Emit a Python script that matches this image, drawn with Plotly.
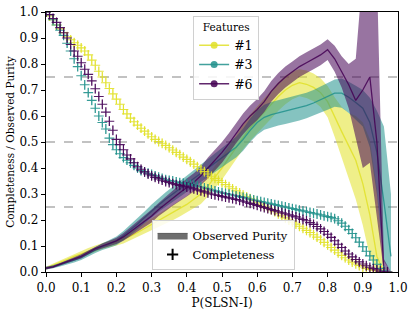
import numpy as np
import plotly.graph_objects as go

# ---------------- data ----------------
P_GRID = [round(0.02 * i, 2) for i in range(50)]          # purity sample points
C_GRID = [round(0.01 * i, 2) for i in range(98)]          # completeness sample points

FEATURES = ["#1", "#3", "#6"]
COLORS = {"#1": (225, 225, 40), "#3": (33, 145, 140), "#6": (68, 1, 84)}

# Observed purity: mean, upper, lower  (x = P_GRID)
pur_mean_1 = [0.015,0.025,0.035,0.048,0.06,0.07,0.08,0.09,0.10,0.108,0.115,0.125,0.138,0.152,0.167,0.182,0.197,0.212,0.227,0.243,
              0.26,0.28,0.30,0.33,0.365,0.40,0.44,0.48,0.52,0.555,0.585,0.615,0.645,0.675,0.70,0.718,0.728,0.722,0.71,0.69,
              0.655,0.595,0.54,0.485,0.43,0.34,0.22,0.06,0.0,0.0]
pur_up_1 = [0.02,0.032,0.044,0.058,0.071,0.082,0.092,0.102,0.112,0.12,0.128,0.14,0.155,0.171,0.188,0.205,0.222,0.238,0.255,0.273,
            0.292,0.315,0.338,0.37,0.407,0.445,0.487,0.528,0.568,0.605,0.637,0.668,0.70,0.73,0.755,0.772,0.78,0.775,0.763,0.745,
            0.715,0.672,0.635,0.612,0.60,0.575,0.51,0.32,0.0,0.0]
pur_lo_1 = [0.01,0.018,0.026,0.038,0.049,0.058,0.068,0.078,0.088,0.096,0.102,0.11,0.121,0.133,0.146,0.159,0.172,0.186,0.199,0.213,
            0.228,0.245,0.262,0.29,0.323,0.355,0.393,0.432,0.472,0.505,0.533,0.562,0.59,0.62,0.645,0.664,0.676,0.669,0.657,0.635,
            0.595,0.52,0.445,0.36,0.28,0.18,0.06,0.0,0.0,0.0]

pur_mean_3 = [0.015,0.02,0.028,0.036,0.046,0.056,0.07,0.085,0.098,0.108,0.12,0.14,0.162,0.185,0.21,0.235,0.258,0.28,0.30,0.32,
              0.34,0.36,0.38,0.40,0.42,0.44,0.46,0.48,0.51,0.545,0.575,0.595,0.605,0.612,0.618,0.624,0.632,0.64,0.65,0.663,
              0.676,0.688,0.688,0.672,0.652,0.63,0.575,0.46,0.27,0.06]
pur_up_3 = [0.02,0.026,0.035,0.044,0.055,0.066,0.081,0.097,0.111,0.123,0.137,0.158,0.182,0.207,0.233,0.26,0.284,0.307,0.328,0.35,
            0.372,0.393,0.414,0.435,0.456,0.477,0.498,0.52,0.552,0.59,0.622,0.643,0.654,0.661,0.667,0.673,0.681,0.689,0.70,0.714,
            0.728,0.74,0.744,0.732,0.716,0.70,0.67,0.62,0.56,0.30]
pur_lo_3 = [0.01,0.014,0.021,0.028,0.037,0.046,0.059,0.073,0.085,0.093,0.103,0.122,0.142,0.163,0.187,0.21,0.232,0.253,0.272,0.29,
            0.308,0.327,0.346,0.365,0.384,0.403,0.422,0.44,0.466,0.50,0.528,0.547,0.556,0.563,0.569,0.575,0.583,0.591,0.60,0.612,
            0.624,0.636,0.632,0.612,0.588,0.56,0.48,0.30,0.04,0.0]

pur_mean_6 = [0.015,0.02,0.03,0.04,0.05,0.06,0.075,0.09,0.10,0.11,0.12,0.135,0.155,0.175,0.195,0.215,0.24,0.262,0.285,0.305,
              0.325,0.345,0.37,0.40,0.43,0.46,0.495,0.535,0.57,0.60,0.625,0.655,0.695,0.725,0.75,0.77,0.79,0.805,0.82,0.835,
              0.855,0.82,0.77,0.72,0.66,0.70,0.75,0.50,0.0,0.0]
pur_up_6 = [0.02,0.025,0.035,0.046,0.057,0.068,0.083,0.098,0.11,0.12,0.132,0.15,0.172,0.195,0.217,0.24,0.265,0.29,0.315,0.337,
            0.36,0.38,0.405,0.44,0.47,0.50,0.535,0.575,0.61,0.64,0.665,0.695,0.735,0.765,0.79,0.81,0.83,0.845,0.86,0.875,
            0.895,0.87,0.83,0.80,0.82,1.15,1.15,1.15,0.05,0.0]
pur_lo_6 = [0.01,0.015,0.025,0.034,0.043,0.052,0.067,0.082,0.09,0.10,0.108,0.12,0.138,0.155,0.173,0.19,0.215,0.235,0.255,0.273,
            0.29,0.31,0.335,0.36,0.39,0.42,0.455,0.495,0.53,0.56,0.585,0.615,0.655,0.685,0.71,0.73,0.75,0.765,0.78,0.795,
            0.815,0.77,0.71,0.63,0.52,0.40,0.42,0.20,0.0,0.0]

# Completeness (x = C_GRID)
comp_1 = [1.00,0.985,0.97,0.95,0.935,0.92,0.905,0.893,0.882,0.872,0.862,0.85,0.835,0.815,0.795,0.772,0.75,0.728,0.706,0.685,
          0.665,0.645,0.625,0.608,0.592,0.578,0.565,0.553,0.542,0.531,0.52,0.51,0.502,0.495,0.487,0.478,0.469,0.46,0.451,0.442,
          0.433,0.424,0.415,0.405,0.395,0.386,0.377,0.368,0.36,0.352,0.344,0.336,0.328,0.32,0.312,0.304,0.296,0.289,0.282,0.275,
          0.268,0.261,0.254,0.247,0.24,0.232,0.224,0.216,0.208,0.20,0.192,0.184,0.176,0.168,0.16,0.152,0.143,0.134,0.124,0.114,
          0.104,0.094,0.084,0.074,0.064,0.055,0.046,0.038,0.031,0.025,0.019,0.014,0.01,0.007,0.004,0.001,0.0,0.0]
comp_3 = [1.00,0.99,0.97,0.95,0.93,0.91,0.88,0.85,0.82,0.79,0.755,0.72,0.69,0.66,0.63,0.60,0.575,0.55,0.515,0.49,
          0.47,0.455,0.44,0.43,0.42,0.41,0.40,0.39,0.385,0.38,0.375,0.37,0.365,0.36,0.355,0.352,0.35,0.347,0.344,0.342,
          0.34,0.337,0.334,0.33,0.327,0.323,0.32,0.316,0.312,0.308,0.305,0.302,0.299,0.296,0.293,0.29,0.287,0.284,0.28,0.277,
          0.274,0.271,0.268,0.265,0.262,0.259,0.256,0.253,0.25,0.247,0.244,0.241,0.238,0.235,0.232,0.229,0.226,0.223,0.22,0.216,
          0.213,0.21,0.205,0.197,0.188,0.176,0.163,0.148,0.132,0.115,0.097,0.08,0.062,0.046,0.03,0.014,0.005,0.0]
comp_6 = [1.00,0.99,0.975,0.96,0.94,0.92,0.90,0.875,0.85,0.83,0.805,0.78,0.76,0.735,0.705,0.675,0.645,0.615,0.58,0.545,
          0.51,0.49,0.47,0.45,0.435,0.42,0.405,0.395,0.385,0.377,0.37,0.364,0.358,0.353,0.348,0.344,0.34,0.336,0.333,0.33,
          0.327,0.324,0.32,0.316,0.312,0.308,0.304,0.30,0.297,0.294,0.291,0.288,0.285,0.282,0.279,0.276,0.272,0.268,0.264,0.26,
          0.256,0.252,0.248,0.244,0.24,0.236,0.232,0.228,0.224,0.22,0.216,0.212,0.207,0.202,0.197,0.19,0.183,0.175,0.166,0.156,
          0.145,0.133,0.12,0.107,0.094,0.081,0.069,0.058,0.048,0.039,0.031,0.024,0.018,0.013,0.008,0.003,0.0,0.0]
COMP_ERR = 0.018

REF_LINES = [0.25, 0.5, 0.75]
TICKS = [round(0.1 * i, 1) for i in range(11)]

PUR = {"#1": (pur_mean_1, pur_up_1, pur_lo_1),
       "#3": (pur_mean_3, pur_up_3, pur_lo_3),
       "#6": (pur_mean_6, pur_up_6, pur_lo_6)}
COMP = {"#1": comp_1, "#3": comp_3, "#6": comp_6}

def rgba(c, a):
    return f"rgba({c[0]},{c[1]},{c[2]},{a})"

FONT = "DejaVu Serif"
fig = go.Figure()

for f in FEATURES:
    c = COLORS[f]
    mean, up, lo = PUR[f]
    fig.add_trace(go.Scatter(x=P_GRID + P_GRID[::-1], y=up + lo[::-1], fill="toself",
                             fillcolor=rgba(c, 0.55), line=dict(width=0), mode="lines",
                             showlegend=False, hoverinfo="skip"))
    fig.add_trace(go.Scatter(x=P_GRID, y=mean, mode="lines", line=dict(color=rgba(c, 0.85), width=1.3),
                             showlegend=False))

for f in FEATURES:
    c = COLORS[f]
    fig.add_trace(go.Scatter(x=C_GRID, y=COMP[f], mode="markers",
                             marker=dict(symbol="cross-thin", size=7, color=rgba(c, 0.9),
                                         line=dict(color=rgba(c, 0.9), width=1.1)),
                             error_y=dict(type="constant", value=COMP_ERR, color=rgba(c, 0.45),
                                          thickness=1.2, width=0),
                             showlegend=False))

# Legend 1: features
for f in FEATURES:
    c = COLORS[f]
    fig.add_trace(go.Scatter(x=[None], y=[None], mode="lines+markers", name=f,
                             line=dict(color=rgba(c, 0.85), width=1.5),
                             marker=dict(symbol="circle", size=7, color=rgba(c, 0.85)),
                             legend="legend"))
# Legend 2: quantities
fig.add_trace(go.Scatter(x=[None], y=[None], mode="lines", fill="toself", name="Observed Purity",
                         fillcolor="rgba(110,110,110,1)", line=dict(color="rgba(90,90,90,1)", width=1),
                         legend="legend2"))
fig.add_trace(go.Scatter(x=[None], y=[None], mode="markers", name="Completeness",
                         marker=dict(symbol="cross-thin", size=8, color="black",
                                     line=dict(color="black", width=2)),
                         legend="legend2"))

for v in REF_LINES:
    fig.add_shape(type="line", xref="paper", x0=0, x1=1, yref="y", y0=v, y1=v,
                  line=dict(color="rgba(120,120,120,0.9)", width=1, dash="dash"), layer="below")

axis_common = dict(range=[0, 1], tickvals=TICKS, tickformat=".1f", ticks="outside", ticklen=4,
                   tickcolor="black", showline=True, linecolor="black", linewidth=1.2, mirror=True,
                   showgrid=False, zeroline=False, automargin=False,
                   tickfont=dict(family=FONT, size=12, color="black"))

fig.update_layout(
    width=415, height=315,
    margin=dict(l=46, r=17, t=12, b=43, autoexpand=False),
    paper_bgcolor="white", plot_bgcolor="white",
    font=dict(family=FONT, color="black"),
    xaxis=dict(**axis_common, title=dict(text="P(SLSN-I)", font=dict(family=FONT, size=12), standoff=5)),
    yaxis=dict(**axis_common, title=dict(text="Completeness / Observed Purity", font=dict(family=FONT, size=10.5), standoff=2)),
    legend=dict(x=0.418, y=0.985, xanchor="left", yanchor="top",
                title=dict(text="Features", side="top center", font=dict(family=FONT, size=10.5)),
                font=dict(family=FONT, size=12.5), bgcolor="rgba(255,255,255,0.85)",
                bordercolor="#d0d0d0", borderwidth=1, itemwidth=30, tracegroupgap=0),
    legend2=dict(x=0.30, y=0.008, xanchor="left", yanchor="bottom",
                 font=dict(family=FONT, size=11.5), bgcolor="rgba(255,255,255,0.85)",
                 bordercolor="#d0d0d0", borderwidth=1, itemwidth=30),
    showlegend=True,
)

# remove the default page margin so the figure sits at the window's top-left corner
fig.write_html("out.html", config={"displayModeBar": False},
               post_script="document.body.style.margin='0';document.body.style.overflow='hidden';")
